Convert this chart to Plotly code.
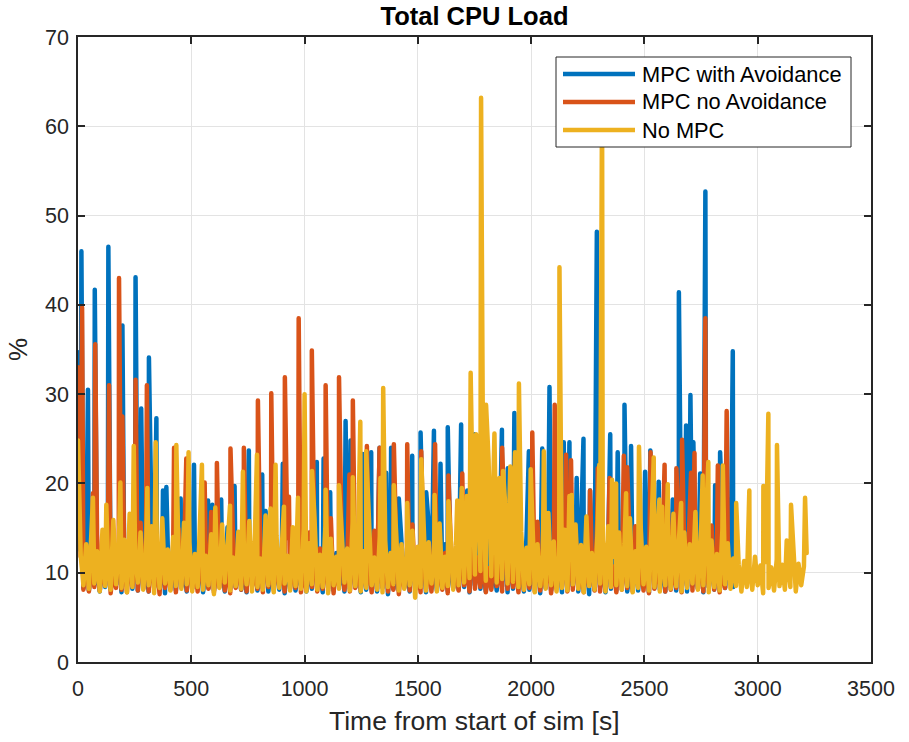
import plotly.graph_objects as go

# Sampling step of the logged CPU load (seconds)
STEP = 12

# ---- MPC with Avoidance -------------------------------------------------
blue_base = [
    34.7, 12.5, 8.3, 11.2, 8.0, 13.6, 8.6, 10.4, 7.9, 12.1, 8.4, 15.8, 8.1, 11.0, 8.7, 12.8, 7.8, 10.6, 8.5, 14.2,
    8.2, 11.5, 8.0, 12.9, 8.8, 10.2, 7.9, 16.4, 8.3, 11.8, 8.1, 10.9, 7.7, 13.1, 8.6, 11.3, 8.0, 12.4, 8.4, 10.7,
    7.9, 14.6, 8.2, 11.1, 8.5, 12.2, 7.8, 10.5, 8.3, 13.8, 8.0, 11.6, 8.7, 10.3, 7.9, 15.1, 8.2, 11.9, 8.4, 12.6,
    8.1, 10.8, 7.8, 13.3, 8.6, 11.4, 8.0, 12.0, 8.3, 16.9, 7.9, 10.6, 8.5, 11.7, 8.1, 13.0, 7.7, 11.2, 8.4, 12.5,
    8.0, 10.9, 8.6, 14.1, 7.9, 11.3, 8.2, 12.7, 8.5, 10.4, 7.8, 15.5, 8.3, 11.8, 8.0, 12.2, 8.6, 10.7, 7.9, 13.4,
    8.2, 11.0, 8.4, 12.9, 7.8, 10.5, 8.1, 16.2, 8.5, 11.6, 7.9, 12.3, 8.3, 10.8, 7.6, 14.0, 8.2, 11.4, 8.0, 12.8,
    8.4, 10.6, 7.9, 13.5, 8.1, 11.9, 8.6, 12.1, 7.8, 15.3, 8.2, 10.9, 8.0, 11.7, 8.5, 13.2, 7.9, 10.4, 8.3, 12.6,
    8.1, 14.8, 8.4, 11.2, 7.8, 12.5, 8.6, 16.0, 8.2, 11.0, 7.9, 13.7, 8.3, 10.7, 8.0, 12.0, 8.5, 15.2, 7.8, 11.5,
    8.2, 12.8, 8.4, 10.6, 7.9, 14.3, 8.1, 11.3, 8.6, 12.4, 7.7, 10.9, 8.3, 16.6, 8.0, 11.8, 8.4, 12.2, 7.8, 13.1,
    8.2, 10.5, 8.5, 11.9, 7.9, 14.7, 8.3, 12.0, 7.6, 10.8, 8.1, 13.6, 8.4, 11.1, 7.8, 12.7, 8.2, 15.9, 8.0, 11.4,
    8.5, 12.3, 7.9, 10.7, 8.2, 13.9, 8.0, 11.6, 8.6, 12.1, 7.8, 16.3, 8.3, 10.9, 8.1, 11.8, 7.9, 14.4, 8.4, 12.5,
    8.0, 17.2, 8.3, 11.1, 7.9, 18.5, 8.5, 12.8, 8.2, 15.4, 7.8, 11.5, 8.4, 13.3, 8.1, 10.8, 8.0, 16.1, 8.3, 12.0,
    9.2, 8.4,
]
blue_peak_t = [15, 44, 74, 134, 196, 254, 279, 313, 346, 375, 390, 453, 512, 574, 593, 632, 691, 754, 813, 904,
               1054, 1084, 1113, 1181, 1203, 1257, 1294, 1331, 1360, 1382, 1416, 1475, 1512, 1537, 1571, 1600,
               1632, 1691, 1718, 1750, 1871, 1897, 1926, 1990, 2049, 2081, 2144, 2169, 2201, 2231, 2260, 2290,
               2349, 2382, 2412, 2441, 2503, 2526, 2563, 2625, 2652, 2684, 2703, 2716, 2746, 2769, 2812, 2834,
               2868, 2890]
blue_peak_v = [46.0, 30.5, 41.7, 46.5, 37.7, 43.1, 28.4, 34.1, 27.3, 19.2, 19.6, 18.3, 22.1, 18.1, 17.6, 18.2, 19.7,
               23.7, 21.0, 22.2, 22.4, 22.8, 19.0, 27.0, 24.8, 23.3, 23.5, 24.0, 21.2, 24.0, 18.3, 23.1, 25.7,
               19.0, 25.9, 22.2, 26.3, 26.6, 19.2, 25.5, 26.0, 21.7, 27.9, 23.6, 23.9, 30.8, 24.6, 24.6, 20.6,
               25.0, 19.2, 48.2, 25.5, 23.5, 28.8, 24.2, 21.3, 23.7, 20.2, 18.2, 41.4, 26.5, 29.9, 24.6, 21.1,
               52.7, 19.8, 23.5, 18.2, 34.8]

# ---- MPC no Avoidance ---------------------------------------------------
red_base = [
    33.0, 11.8, 8.1, 12.6, 7.9, 10.7, 8.4, 14.3, 8.0, 11.2, 8.6, 12.9, 7.7, 10.5, 8.3, 13.4, 8.1, 11.7, 7.8, 12.2,
    8.5, 10.9, 8.0, 15.6, 8.2, 11.4, 7.9, 12.7, 8.4, 10.6, 7.6, 13.8, 8.3, 11.0, 8.1, 12.3, 7.8, 14.9, 8.5, 11.6,
    8.0, 12.1, 8.3, 10.8, 7.9, 13.2, 8.6, 11.5, 8.2, 16.8, 7.8, 10.9, 8.4, 12.6, 8.0, 11.3, 7.7, 14.1, 8.3, 12.0,
    8.1, 11.7, 7.9, 13.6, 8.5, 10.4, 8.2, 12.8, 7.8, 15.0, 8.4, 11.2, 8.0, 12.4, 8.6, 10.7, 7.9, 13.9, 8.2, 11.5,
    8.3, 12.2, 7.8, 10.6, 8.1, 14.5, 8.4, 11.9, 7.9, 12.7, 8.2, 10.8, 8.0, 16.1, 7.7, 11.4, 8.5, 12.9, 8.1, 10.5,
    7.9, 13.1, 8.3, 11.6, 8.0, 12.3, 8.6, 10.9, 7.8, 14.7, 8.2, 11.1, 8.4, 12.5, 7.9, 10.6, 8.1, 13.5, 7.6, 11.8,
    8.3, 12.0, 8.0, 15.4, 8.5, 10.7, 7.8, 12.6, 8.2, 11.3, 7.9, 13.7, 8.4, 10.8, 8.1, 12.2, 7.7, 14.2, 8.3, 11.5,
    8.0, 12.8, 8.6, 10.9, 7.9, 16.5, 8.2, 11.7, 8.4, 12.4, 7.8, 10.5, 8.1, 13.3, 8.5, 11.2, 7.9, 14.9, 8.2, 12.1,
    8.4, 10.7, 7.8, 13.0, 8.1, 11.6, 8.3, 12.5, 7.9, 15.7, 8.0, 11.0, 8.5, 12.9, 7.7, 10.6, 8.2, 13.8, 8.4, 11.4,
    7.9, 12.2, 8.1, 14.6, 8.3, 10.9, 7.8, 12.7, 8.5, 11.3, 8.0, 16.0, 7.9, 11.8, 8.2, 12.4, 8.4, 10.7, 7.8, 13.5,
    8.1, 11.1, 8.3, 12.6, 7.9, 15.2, 8.5, 10.8, 8.0, 12.0, 7.7, 13.9, 8.2, 11.5, 8.4, 12.8, 7.9, 17.1, 8.1, 11.3,
    8.3, 14.0, 7.8, 12.2, 8.5, 16.4, 8.0, 11.7, 8.2, 13.1, 7.9, 10.9, 8.4, 15.3, 8.1, 12.5, 7.8, 11.0, 8.3, 12.4,
]
red_peak_t = [18, 66, 76, 137, 181, 196, 254, 304, 424, 478, 559, 613, 673, 732, 794, 853, 913, 931, 974, 1032,
              1093, 1152, 1198, 1213, 1275, 1331, 1394, 1453, 1515, 1576, 1635, 1696, 1872, 1929, 2005, 2104,
              2154, 2176, 2260, 2294, 2346, 2409, 2424, 2527, 2589, 2641, 2666, 2706, 2721, 2769, 2824, 2863]
red_peak_v = [39.7, 18.9, 35.6, 31.0, 43.0, 27.5, 31.6, 31.0, 24.0, 22.8, 20.1, 22.3, 23.9, 24.0, 29.3, 30.1, 31.9,
              18.5, 38.5, 34.9, 31.0, 31.9, 21.0, 29.3, 24.2, 24.0, 24.4, 24.4, 23.6, 24.4, 20.9, 21.1, 24.0,
              23.1, 25.7, 28.8, 23.2, 22.6, 19.2, 21.7, 20.6, 23.1, 21.8, 23.5, 22.1, 21.7, 24.9, 21.2, 23.4,
              38.5, 22.0, 28.1]

# ---- No MPC -------------------------------------------------------------
yellow_base = [
    24.8, 11.9, 8.6, 13.2, 8.2, 16.3, 8.8, 12.4, 7.9, 14.8, 8.5, 11.6, 8.1, 15.9, 8.7, 12.9, 8.3, 13.7, 7.8, 16.6,
    8.4, 12.2, 8.9, 14.5, 8.1, 11.8, 8.6, 15.2, 7.7, 13.1, 8.3, 16.1, 8.8, 12.6, 8.0, 14.0, 8.5, 11.5, 8.2, 15.6,
    8.7, 13.4, 7.9, 12.1, 8.4, 16.8, 8.1, 11.9, 8.6, 14.3, 7.6, 12.7, 8.3, 15.4, 8.9, 13.0, 8.0, 11.7, 8.5, 14.6,
    8.2, 12.3, 8.7, 15.8, 7.9, 13.5, 8.4, 11.6, 8.1, 16.4, 8.6, 12.8, 7.8, 14.2, 8.3, 13.1, 8.8, 11.9, 8.0, 15.1,
    8.5, 12.5, 8.2, 14.9, 7.9, 13.3, 8.7, 16.0, 8.1, 12.0, 8.4, 15.3, 7.7, 13.8, 8.6, 11.8, 8.2, 14.4, 8.9, 12.7,
    8.0, 15.7, 8.5, 13.0, 7.9, 12.4, 8.3, 16.2, 8.6, 11.7, 8.1, 14.1, 7.8, 13.6, 8.4, 12.2, 8.7, 15.0, 8.0, 13.2,
    8.2, 11.9, 8.6, 14.7, 7.2, 12.9, 8.4, 16.5, 8.0, 13.4, 8.8, 12.1, 7.9, 15.5, 8.3, 11.8, 8.5, 14.3, 8.1, 13.0,
    8.6, 15.8, 8.9, 18.6, 9.4, 21.3, 9.8, 23.5, 10.2, 19.8, 9.1, 22.7, 9.6, 24.1, 8.9, 20.6, 9.3, 18.2, 8.8, 21.9,
    9.0, 17.4, 8.4, 14.6, 8.1, 12.8, 8.7, 15.9, 7.8, 13.2, 8.5, 12.0, 8.2, 16.7, 8.6, 13.5, 7.9, 11.9, 8.3, 14.8,
    8.0, 12.6, 8.7, 15.4, 8.2, 13.1, 7.8, 16.3, 8.5, 12.2, 8.1, 14.0, 8.8, 13.7, 7.9, 15.2, 8.4, 11.8, 8.6, 14.5,
    8.1, 13.3, 8.5, 16.1, 7.8, 12.4, 8.3, 14.9, 8.7, 12.9, 8.0, 15.6, 8.4, 13.0, 7.9, 12.2, 8.6, 14.2, 8.2, 16.6,
    8.5, 12.7, 7.9, 14.5, 8.3, 13.2, 8.8, 15.3, 8.1, 12.5, 8.6, 16.0, 7.8, 13.6, 8.4, 12.1, 8.0, 14.8, 8.7, 13.3,
    8.2, 11.6, 8.5, 10.9, 7.9, 11.3, 8.4, 10.5, 8.1, 11.8, 8.6, 10.8, 7.7, 11.2, 8.3, 10.6, 8.0, 11.5, 8.5, 10.9,
    8.1, 11.4, 8.4, 13.6, 7.9, 11.0, 8.6, 10.7, 12.2,
]
yellow_peak_t = [66, 125, 187, 246, 306, 343, 434, 488, 547, 606, 671, 728, 754, 790, 850, 872, 909, 971, 1000,
                 1033, 1093, 1152, 1213, 1246, 1272, 1335, 1347, 1394, 1453, 1515, 1574, 1635, 1674, 1694, 1733,
                 1757, 1779, 1801, 1838, 1876, 1929, 1946, 1998, 2056, 2125, 2169, 2179, 2301, 2313, 2357, 2375,
                 2419, 2476, 2541, 2566, 2578, 2603, 2662, 2725, 2757, 2782, 2846, 2905, 2963, 3025, 3047, 3085,
                 3128, 3147, 3209]
yellow_peak_v = [18.4, 17.6, 20.1, 24.2, 19.5, 24.6, 24.3, 23.5, 22.1, 17.3, 17.5, 21.3, 14.7, 23.2, 17.2, 22.1,
                 17.4, 18.4, 30.0, 21.4, 19.3, 19.8, 20.7, 26.9, 23.6, 20.6, 30.7, 19.8, 17.8, 22.7, 18.7, 18.0,
                 18.1, 19.5, 32.4, 25.5, 63.2, 28.8, 25.6, 21.4, 23.5, 31.2, 21.6, 23.6, 44.2, 18.6, 18.7, 22.1,
                 64.0, 20.4, 20.0, 18.9, 24.1, 22.9, 18.2, 17.4, 19.9, 17.8, 16.8, 20.9, 22.4, 22.0, 17.8, 19.2,
                 19.7, 27.8, 24.3, 13.6, 17.6, 18.4]

series_names = ["MPC with Avoidance", "MPC no Avoidance", "No MPC"]
series_colors = ["#0072BD", "#D95319", "#EDB120"]


def combine(base, peak_t, peak_v):
    """Merge the regular samples with the logged load peaks, ordered by time."""
    pts = [(i * STEP, v) for i, v in enumerate(base)] + list(zip(peak_t, peak_v))
    pts.sort(key=lambda p: p[0])
    return [p[0] for p in pts], [p[1] for p in pts]


data = [
    combine(blue_base, blue_peak_t, blue_peak_v),
    combine(red_base, red_peak_t, red_peak_v),
    combine(yellow_base, yellow_peak_t, yellow_peak_v),
]

FONT = "Liberation Sans, Arial, Helvetica, sans-serif"
AXIS_COLOR = "#262626"

fig = go.Figure()
for (t, v), name, color in zip(data, series_names, series_colors):
    fig.add_trace(go.Scatter(x=t, y=v, mode="lines", name=name,
                             line=dict(color=color, width=4.5), showlegend=False,
                             hoverinfo="skip"))

# plot area in pixels
L, R, T, B = 78, 871, 37, 662


def px(xp):
    return (xp - L) / (R - L)


def py(yp):
    return (B - yp) / (B - T)


# legend box drawn with shapes so the sample lines match the long MATLAB style
shapes = [dict(type="rect", xref="paper", yref="paper",
               x0=px(556), x1=px(851), y0=py(147), y1=py(57),
               fillcolor="white", line=dict(color=AXIS_COLOR, width=1), layer="above")]
annotations = []
for i, (name, color) in enumerate(zip(series_names, series_colors)):
    yy = 74 + 28 * i
    shapes.append(dict(type="line", xref="paper", yref="paper",
                       x0=px(563), x1=px(635), y0=py(yy), y1=py(yy),
                       line=dict(color=color, width=4.5), layer="above"))
    annotations.append(dict(text=name, xref="paper", yref="paper", x=px(640), y=py(yy),
                            xanchor="left", yanchor="middle", showarrow=False,
                            font=dict(family=FONT, size=21.8, color="#000000")))

# axis titles
annotations.append(dict(text="Time from start of sim [s]", xref="paper", yref="paper",
                        x=0.5, y=py(721), xanchor="center", yanchor="middle", showarrow=False,
                        font=dict(family=FONT, size=26.5, color=AXIS_COLOR)))
annotations.append(dict(text="%", xref="paper", yref="paper", textangle=-90,
                        x=px(18), y=py(350), xanchor="center", yanchor="middle", showarrow=False,
                        font=dict(family=FONT, size=26, color=AXIS_COLOR)))

axis_common = dict(showline=True, linecolor=AXIS_COLOR, linewidth=1.5, mirror="ticks",
                   ticks="inside", ticklen=7, tickwidth=1.5, tickcolor=AXIS_COLOR,
                   showgrid=True, gridcolor="#E3E3E3", gridwidth=1, zeroline=False,
                   tickfont=dict(family=FONT, size=21.5, color=AXIS_COLOR))

fig.update_layout(
    width=909, height=742,
    margin=dict(l=L, r=909 - R, t=T, b=742 - B),
    paper_bgcolor="white", plot_bgcolor="white",
    title=dict(text="<b>Total CPU Load</b>", x=0.5, xref="paper", y=1 - 16 / 742,
               yanchor="middle", font=dict(family=FONT, size=25.5, color="#000000")),
    xaxis=dict(range=[0, 3500], dtick=500, tick0=0, ticklabelstandoff=6, **axis_common),
    yaxis=dict(range=[0, 70], dtick=10, tick0=0, ticklabelstandoff=3, **axis_common),
    shapes=shapes, annotations=annotations, showlegend=False,
)

round_joins = """
document.querySelectorAll('.scatterlayer path.js-line').forEach(function (p) {
  p.style.strokeLinejoin = 'round';
  p.style.strokeLinecap = 'round';
});
"""

fig.write_html("out.html", post_script=round_joins)
